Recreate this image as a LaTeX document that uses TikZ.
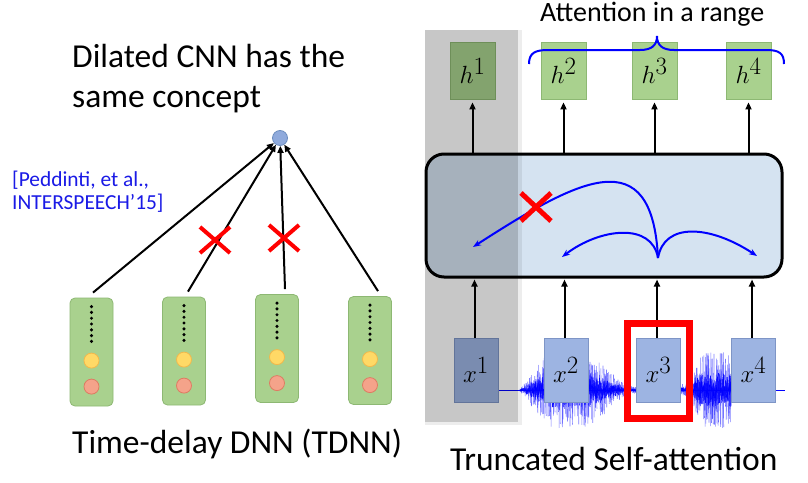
\documentclass[tikz,border=0pt]{standalone}
\usepackage{fontspec}
\setmainfont{Carlito}
\usetikzlibrary{calc,arrows.meta}
\definecolor{gfill}{HTML}{A9D18E}
\definecolor{gdraw}{HTML}{8DB873}
\definecolor{bfill}{HTML}{9DB4E2}
\definecolor{bdraw}{HTML}{7E95C6}
\definecolor{boxfill}{HTML}{D5E3F1}
\definecolor{yfill}{HTML}{FFD966}
\definecolor{ydraw}{HTML}{F2B84B}
\definecolor{rfill}{HTML}{F4A38A}
\definecolor{rdraw}{HTML}{DE7B62}
\definecolor{cfill}{HTML}{8FAADC}
\definecolor{cdraw}{HTML}{6C8EBF}
\definecolor{xred}{HTML}{FF0000}
\definecolor{wblue}{HTML}{0000FF}
\definecolor{citeblue}{HTML}{1A1AE6}
\begin{document}
\begin{tikzpicture}[x=1pt,y=-1pt,
 col/.style={draw=gdraw, fill=gfill, rounded corners=5pt, minimum width=43pt, minimum height=108pt, inner sep=0pt, line width=0.8pt},
 hbox/.style={draw=gdraw, fill=gfill, minimum width=45pt, minimum height=57pt, inner sep=0pt, line width=0.8pt, font=\fontsize{34}{38}\selectfont},
 xbox/.style={draw=bdraw, fill=bfill, minimum width=44pt, minimum height=64pt, inner sep=0pt, line width=0.8pt, font=\fontsize{34}{38}\selectfont},
 arr/.style={line width=2pt, -{Triangle[length=7pt,width=6pt]}},
 barr/.style={wblue, line width=2pt, -{Stealth[length=8pt,width=6pt]}},
 cross/.style={xred, line width=4pt},
 bigtxt/.style={font=\fontsize{33.5}{38}\selectfont, inner sep=0pt, anchor=base west},
 wave/.style={wblue, line width=0.6pt, opacity=0.5},
 wavecore/.style={wblue, line width=0.6pt, opacity=0.9},
]
\useasboundingbox (0,0) rectangle (808,482);
\fill[white] (0,0) rectangle (808,482);

% ---------- left: TDNN ----------
\node[bigtxt] (t1) at (72,67) {Dilated CNN has the};
\node[bigtxt] (t2) at (72,107) {same concept};
\node[citeblue, font=\fontsize{21.4}{24}\selectfont, anchor=base west, inner sep=0pt] (c1t) at (12,186) {[Peddinti, et al.,};
\node[citeblue, font=\fontsize{21.4}{24}\selectfont, anchor=base west, inner sep=0pt] (c2t) at (12,209) {INTERSPEECH’15]};
\node[bigtxt] (t3) at (72,453) {Time-delay DNN (TDNN)};

\node[circle, fill=cfill, draw=cdraw, minimum size=15pt, inner sep=0pt, line width=0.8pt] (top) at (280,138) {};

\foreach \i/\cx/\cy in {1/91.5/352, 2/184/351, 3/277/348.5, 4/370/350.5} {
  \node[col] (c\i) at (\cx,\cy) {};
  \foreach \d in {0,...,6} \fill ($(c\i.north)+(0,9+\d*5.8)$) circle (1.7pt);
  \draw[fill=yfill, draw=ydraw, line width=0.8pt] ($(c\i.north)+(0,63)$) circle (7.5pt);
  \draw[fill=rfill, draw=rdraw, line width=0.8pt] ($(c\i.north)+(0,89)$) circle (7.5pt);
}
\draw[arr] ([xshift=1.5pt,yshift=5pt]c1.north) -- (top);
\draw[arr] ([xshift=4pt,yshift=5pt]c2.north) -- (top);
\draw[arr] ([xshift=8pt,yshift=5pt]c3.north) -- (top);
\draw[arr] ([xshift=8pt,yshift=5pt]c4.north) -- (top);

\coordinate (k1) at (215,240);
\coordinate (k2) at (284,238);
\foreach \k in {k1,k2}
  \draw[cross] ($(\k)+(-15,-13)$) -- ($(\k)+(15,13)$) ($(\k)+(-15,13)$) -- ($(\k)+(15,-13)$);

% ---------- right: truncated self-attention ----------
\node[draw=black, line width=3pt, fill=boxfill, rounded corners=18pt, minimum width=356pt, minimum height=123pt] (att) at (604,215.5) {};

% waveform
\draw[wblue, line width=1pt] (498,390) -- (785,390);
\pgfmathsetseed{11}
\foreach \i in {0,...,340} {
  \pgfmathsetmacro\xx{520+\i*0.35}
  \pgfmathsetmacro\env{\xx<545 ? 2+(\xx-520)*1.3 : (\xx<590 ? 38 : (\xx<625 ? 38-(\xx-590)*0.95 : 4))}
  \pgfmathsetmacro\ra{\env*pow(rnd,1.4)}
  \pgfmathsetmacro\rb{\env*pow(rnd,1.4)}
  \pgfmathsetmacro\ca{0.45*\env*rnd}
  \pgfmathsetmacro\cb{0.45*\env*rnd}
  \draw[wave] (\xx,390-\ra) -- (\xx+0.3,390+\rb);
  \draw[wavecore] (\xx,390-\ca) -- (\xx+0.3,390+\cb);
}
\foreach \i in {0,...,145} {
  \pgfmathsetmacro\xx{680+\i*0.35}
  \pgfmathsetmacro\env{\xx<690 ? 6 : min(38,6+(\xx-690)*3)}
  \pgfmathsetmacro\ra{\env*pow(rnd,1.4)}
  \pgfmathsetmacro\rb{\env*pow(rnd,1.4)}
  \pgfmathsetmacro\ca{0.45*\env*rnd}
  \pgfmathsetmacro\cb{0.45*\env*rnd}
  \draw[wave] (\xx,390-\ra) -- (\xx+0.3,390+\rb);
  \draw[wavecore] (\xx,390-\ca) -- (\xx+0.3,390+\cb);
}

\node[xbox] (x1) at (476,370) {$x^1$};
\node[xbox] (x2) at (566,370) {$x^2$};
\node[xbox] (x3) at (658.5,370) {$x^3$};
\node[xbox] (x4) at (753.5,370) {$x^4$};

\node[hbox] (h1) at (472.5,70.5) {$h^1$};
\node[hbox] (h2) at (563.5,70.5) {$h^2$};
\node[hbox] (h3) at (654.5,70.5) {$h^3$};
\node[hbox] (h4) at (748.5,70.5) {$h^4$};

% gray band
\fill[black, opacity=0.22] (425,30) rectangle (518,422);
\fill[black, opacity=0.07] (518,30) rectangle (522,422);
\fill[black, opacity=0.07] (425,422) rectangle (522,425);

% arrows
\foreach \i in {1,...,4} {
  \draw[arr, shorten >=3pt] (h\i.south |- att.north) -- (h\i.south);
  \path ([xshift=-1.5pt]x\i.north) coordinate (xa\i);
  \draw[arr, shorten >=1pt] (xa\i) -- (xa\i |- att.south);
}

% attention curves
\coordinate (src) at (658,258);
\coordinate (e1) at (473,247);
\coordinate (e2) at (562,257);
\coordinate (e3) at (757,256);
\draw[barr] (src) .. controls (652,140) and (580,178) .. (e1);
\draw[barr] (src) .. controls (652,222) and (600,228) .. (e2);
\draw[barr] (src) .. controls (664,222) and (710,225) .. (e3);
\coordinate (k3) at (536,207);
\draw[xred, line width=5pt] ($(k3)+(-15,-14)$) -- ($(k3)+(15,14)$) ($(k3)+(-15,14)$) -- ($(k3)+(15,-14)$);

% selection rectangle
\node[draw=xred, line width=7pt, minimum width=62pt, minimum height=95pt, inner sep=0pt] (sel) at (658.5,371) {};

% brace
\draw[wblue, line width=2pt] (529,64) .. controls (529,53) and (535,50) .. (548,50) -- (640,50)
  .. controls (652,50) and (657,45) .. (657,36) .. controls (657,45) and (662,50) .. (674,50)
  -- (766,50) .. controls (779,50) and (784,53) .. (784,64);

\node[font=\fontsize{28}{32}\selectfont, inner sep=0pt, anchor=base west] (t5) at (540,21) {Attention in a range};
\node[bigtxt] (t4) at (450,470) {Truncated Self-attention};
\end{tikzpicture}
\end{document}
